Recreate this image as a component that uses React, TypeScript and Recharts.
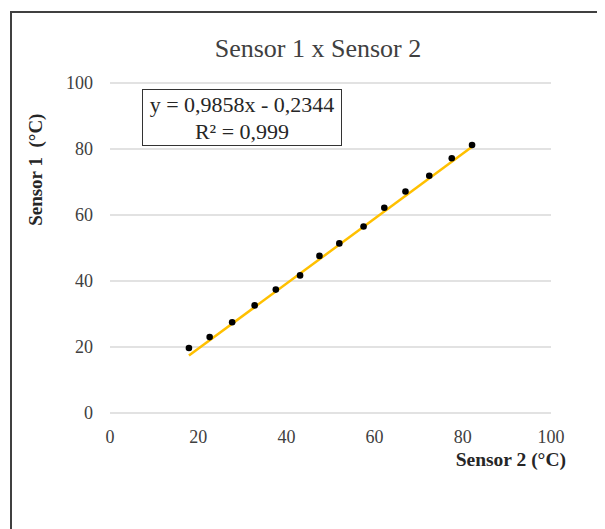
import { ScatterChart, Scatter, XAxis, YAxis, CartesianGrid, Label } from 'recharts';

// readings from the two sensors (°C)
const sensor2 = [17.9, 22.6, 27.7, 32.8, 37.6, 43.1, 47.5, 52.0, 57.5, 62.2, 67.0, 72.4, 77.5, 82.1];
const sensor1 = [19.7, 23.0, 27.5, 32.6, 37.4, 41.7, 47.6, 51.4, 56.5, 62.2, 67.1, 71.9, 77.2, 81.2];

const axisTicks = [0, 20, 40, 60, 80, 100];

// linear trend shown on the chart
const slope = 0.9858;
const intercept = -0.2344;
const r2Text = '0,999';

const serif = '"Liberation Serif", "Times New Roman", serif';

const points = sensor2.map((x, i) => ({ x, y: sensor1[i] }));
const xMin = Math.min(...sensor2);
const xMax = Math.max(...sensor2);
const trend = [
  { x: xMin, y: slope * xMin + intercept },
  { x: xMax, y: slope * xMax + intercept },
];

const fmt = (v: number) => Math.abs(v).toFixed(4).replace('.', ',');

const noShape = () => <g />;

const renderXLabel = (props: any) => {
  const vb = props.viewBox;
  return (
    <text
      x={vb.x + vb.width + 15}
      y={vb.y + 53.4}
      textAnchor="end"
      fontFamily={serif}
      fontSize={19.5}
      fontWeight="bold"
      fill="#262626"
    >
      Sensor 2 (°C)
    </text>
  );
};

const renderYLabel = (props: any) => {
  const vb = props.viewBox;
  const cx = vb.x - 14;
  const cy = vb.y + 86.7;
  return (
    <text
      x={cx}
      y={cy}
      transform={`rotate(-90, ${cx}, ${cy})`}
      textAnchor="middle"
      dominantBaseline="central"
      fontFamily={serif}
      fontSize={19}
      fontWeight="bold"
      fill="#262626"
    >
      {'Sensor 1\u00a0 (°C)'}
    </text>
  );
};

export default function App() {
  const tickStyle = { fontFamily: serif, fontSize: 18, fill: '#404040' };

  return (
    <div style={{ position: 'relative', width: 597, height: 521, fontFamily: serif }}>
      <div
        style={{
          position: 'absolute',
          left: 2,
          top: 3,
          width: 595,
          height: 518,
          boxSizing: 'border-box',
          borderLeft: '2px solid #404040',
          borderTop: '2px solid #404040',
        }}
      />
      <div
        style={{
          position: 'absolute',
          left: 110,
          top: 28,
          width: 400,
          textAlign: 'center',
          fontSize: 26,
          lineHeight: '26px',
          color: '#404040',
        }}
      >
        Sensor 1 x Sensor 2
      </div>
      <ScatterChart width={597} height={521} margin={{ top: 75, right: 54, bottom: 86, left: 42 }}>
        <CartesianGrid stroke="#d9d9d9" strokeWidth={1.3} horizontal={true} vertical={false} />
        <XAxis
          type="number"
          dataKey="x"
          domain={[0, 100]}
          ticks={axisTicks}
          tick={tickStyle}
          tickLine={false}
          axisLine={false}
          tickMargin={11}
          height={30}
        >
          <Label content={renderXLabel} />
        </XAxis>
        <YAxis
          type="number"
          dataKey="y"
          domain={[0, 100]}
          ticks={axisTicks}
          tick={tickStyle}
          tickLine={false}
          axisLine={false}
          tickMargin={11}
          width={60}
        >
          <Label content={renderYLabel} />
        </YAxis>
        <Scatter
          data={trend}
          line={{ stroke: '#ffc000', strokeWidth: 2.5 }}
          lineType="joint"
          shape={noShape}
          isAnimationActive={false}
        />
        <Scatter data={points} fill="#000000" isAnimationActive={false} shape={(p: any) => <circle cx={p.cx} cy={p.cy} r={3.3} fill="#000" />} />
      </ScatterChart>
      <div
        style={{
          position: 'absolute',
          left: 134,
          top: 81,
          width: 200,
          height: 57,
          boxSizing: 'border-box',
          border: '1.5px solid #333',
          background: '#fff',
          textAlign: 'center',
          fontSize: 22,
          lineHeight: '26.7px',
          paddingTop: 2,
          color: '#262626',
          whiteSpace: 'nowrap',
        }}
      >
        <div>{`y = ${fmt(slope)}x - ${fmt(intercept)}`}</div>
        <div>{`R² = ${r2Text}`}</div>
      </div>
    </div>
  );
}
